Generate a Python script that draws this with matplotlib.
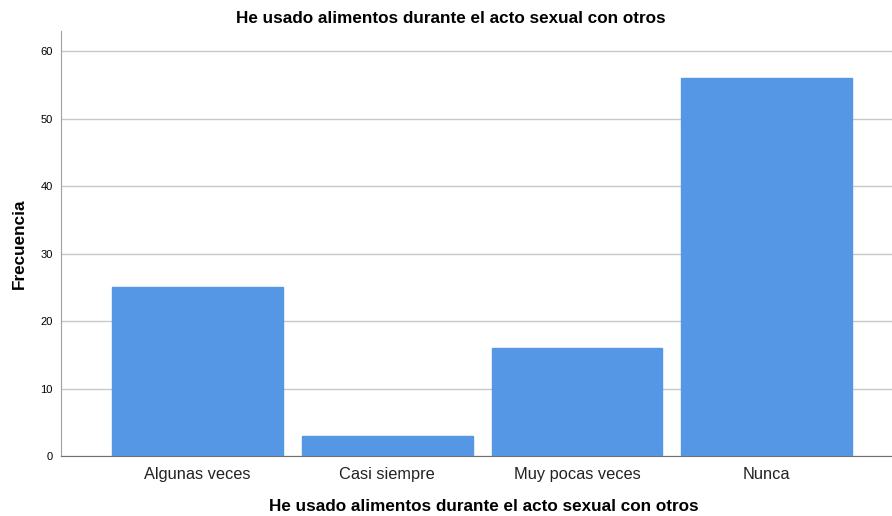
import matplotlib.pyplot as plt
import numpy as np

plt.rcParams['font.family'] = ['Liberation Sans', 'DejaVu Sans']

categorias = ['Algunas veces', 'Casi siempre', 'Muy pocas veces', 'Nunca']
frecuencia = [25, 3, 16, 56]
yticks = [0, 10, 20, 30, 40, 50, 60]

fig = plt.figure(figsize=(8.92, 5.16), dpi=100)
ax = fig.add_axes([0.0684, 0.1163, 0.9316, 0.8237])

x = np.arange(len(categorias))
ax.bar(x, frecuencia, width=0.9, color='#5596e5', edgecolor='#5596e5', zorder=3)

ax.set_xlim(-0.72, 3.66)
ax.set_ylim(0, 63)
ax.set_yticks(yticks)
ax.set_xticks(x)
ax.set_xticklabels(categorias, fontsize=11.8, color='#222222')
ax.tick_params(axis='y', labelsize=8, length=0, pad=6)
ax.tick_params(axis='x', length=0, pad=8)
ax.grid(axis='y', color='#c8c8c8', linewidth=1, zorder=0)

for s in ['top', 'right']:
    ax.spines[s].set_visible(False)
ax.spines['left'].set_color('#a0a0a0')
ax.spines['bottom'].set_color('#707070')

ax.set_title('He usado alimentos durante el acto sexual con otros',
             fontsize=12.3, fontweight='bold', pad=6, x=0.469)
ax.set_xlabel('He usado alimentos durante el acto sexual con otros',
              fontsize=12.3, fontweight='bold', labelpad=12, x=0.509)
ax.set_ylabel('Frecuencia', fontsize=12.3, fontweight='bold', labelpad=10)

fig.savefig('out.png', dpi=100)
